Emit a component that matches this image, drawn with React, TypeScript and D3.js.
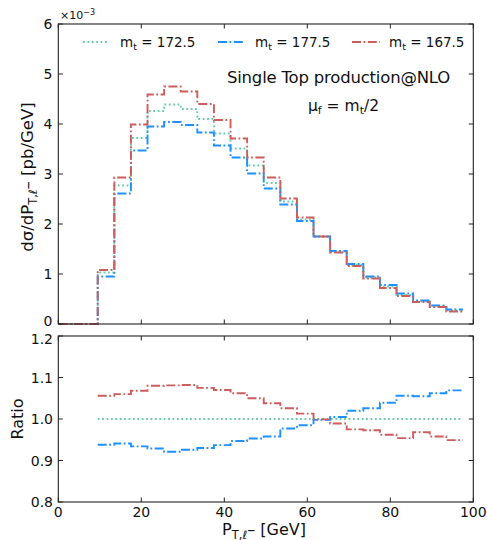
import React from "react";
import * as d3 from "d3";

// Bin edges (GeV) for the histogram steps
const binEdges = [0, 9.5, 13.5, 17.5, 21.5, 25.5, 29.5, 33.5, 37.5, 41.5, 45.5, 49.5, 53.5, 57.5, 61.5, 65.5, 69.5, 73.5, 77.5, 81.5, 85.5, 89.5, 93.5, 97.5];

// dσ/dPT values (×10^-3 pb/GeV), one per bin (first bin is the empty region below 9.5 GeV)
const mt1725 = [0, 1.03, 2.77, 3.72, 4.26, 4.39, 4.3, 4.1, 3.81, 3.51, 3.17, 2.82, 2.45, 2.09, 1.75, 1.45, 1.18, 0.93, 0.75, 0.58, 0.45, 0.35, 0.27];
const mt1775 = [0, 0.95, 2.61, 3.47, 3.95, 4.04, 3.98, 3.83, 3.57, 3.33, 3.01, 2.71, 2.39, 2.06, 1.75, 1.46, 1.2, 0.95, 0.78, 0.61, 0.47, 0.37, 0.29];
const mt1675 = [0, 1.08, 2.93, 3.99, 4.59, 4.75, 4.65, 4.4, 4.08, 3.71, 3.33, 2.93, 2.51, 2.13, 1.75, 1.43, 1.16, 0.91, 0.72, 0.56, 0.44, 0.34, 0.25];

// Ratio to mt = 172.5 (bins from 9.5 GeV)
const ratioEdges = binEdges.slice(1);
const ratio1725 = [1, 1, 1, 1, 1, 1, 1, 1, 1, 1, 1, 1, 1, 1, 1, 1, 1, 1, 1, 1, 1, 1];
const ratio1775 = [0.938, 0.941, 0.934, 0.929, 0.921, 0.926, 0.93, 0.937, 0.947, 0.953, 0.958, 0.977, 0.985, 0.998, 1.005, 1.02, 1.026, 1.039, 1.056, 1.055, 1.062, 1.069];
const ratio1675 = [1.056, 1.06, 1.068, 1.08, 1.081, 1.082, 1.075, 1.07, 1.062, 1.05, 1.038, 1.026, 1.013, 0.999, 0.989, 0.975, 0.973, 0.962, 0.954, 0.968, 0.958, 0.949];

const xTicks = [0, 20, 40, 60, 80, 100];
const yTopTicks = [0, 1, 2, 3, 4, 5, 6];
const yRatioTicks = [0.8, 0.9, 1.0, 1.1, 1.2];
const yRatioLabels = ["0.8", "0.9", "1.0", "1.1", "1.2"];

const series = [
  { label: "172.5", top: mt1725, ratio: ratio1725, color: "#66CDAA", dash: "1.8,2.6" },
  { label: "177.5", top: mt1775, ratio: ratio1775, color: "#1E90FF", dash: "9,2.5,1.8,2.5" },
  { label: "167.5", top: mt1675, ratio: ratio1675, color: "#CD5C5C", dash: "9,2.5,1.8,2.5" },
];

const W = 487;
const H = 540;
const L = 58.3;
const R = 473.3;
const topT = 24;
const topB = 324;
const ratT = 336;
const ratB = 502;
const FONT = "DejaVu Sans, sans-serif";

export default function App() {
  const x = d3.scaleLinear().domain([0, 100]).range([L, R]);
  const yTop = d3.scaleLinear().domain([0, 6]).range([topB, topT]);
  const yRat = d3.scaleLinear().domain([0.8, 1.2]).range([ratB, ratT]);

  const stepPath = (edges: number[], vals: number[], y: d3.ScaleLinear<number, number>) => {
    const pts: [number, number][] = vals.map((v, i) => [edges[i], v]);
    pts.push([edges[vals.length], vals[vals.length - 1]]);
    return (
      d3
        .line<[number, number]>()
        .x((d) => x(d[0]))
        .y((d) => y(d[1]))
        .curve(d3.curveStepAfter)(pts) || ""
    );
  };

  const tk = 4.5;
  const frame = (t: number, b: number) => (
    <rect x={L} y={t} width={R - L} height={b - t} fill="none" stroke="#222" strokeWidth={1.1} />
  );

  const xTickMarks = (t: number, b: number) =>
    xTicks.map((v) => (
      <g key={`xt${t}-${v}`}>
        <line x1={x(v)} x2={x(v)} y1={b} y2={b - tk} stroke="#222" strokeWidth={1} />
        <line x1={x(v)} x2={x(v)} y1={t} y2={t + tk} stroke="#222" strokeWidth={1} />
      </g>
    ));

  const yTickMarks = (vals: number[], y: d3.ScaleLinear<number, number>, key: string) =>
    vals.map((v) => (
      <g key={`${key}${v}`}>
        <line x1={L} x2={L + tk} y1={y(v)} y2={y(v)} stroke="#222" strokeWidth={1} />
        <line x1={R} x2={R - tk} y1={y(v)} y2={y(v)} stroke="#222" strokeWidth={1} />
      </g>
    ));

  const legendX = [
    { x1: 83, x2: 108, tx: 120 },
    { x1: 218, x2: 245, tx: 255 },
    { x1: 352, x2: 380, tx: 389 },
  ];

  return (
    <svg width={W} height={H} style={{ display: "block", position: "absolute", left: 0, top: 0 }} fontFamily={FONT}>
      <rect width={W} height={H} fill="#fff" />
      {/* top panel lines */}
      <g fill="none" strokeWidth={1.9}>
        {series.map((s) => (
          <path key={`t${s.label}`} d={stepPath(binEdges, s.top, yTop)} stroke={s.color} strokeDasharray={s.dash} />
        ))}
      </g>
      {/* ratio panel lines */}
      <g fill="none" strokeWidth={1.9}>
        {series.map((s) => (
          <path key={`r${s.label}`} d={stepPath(ratioEdges, s.ratio, yRat)} stroke={s.color} strokeDasharray={s.dash} />
        ))}
      </g>

      {frame(topT, topB)}
      {frame(ratT, ratB)}
      {xTickMarks(topT, topB)}
      {xTickMarks(ratT, ratB)}
      {yTickMarks(yTopTicks, yTop, "yt")}
      {yTickMarks(yRatioTicks, yRat, "yr")}

      {/* tick labels */}
      <g fontSize={14} fill="#111">
        {yTopTicks.map((v) => (
          <text key={`ytl${v}`} x={52.5} y={yTop(v) - (v === 0 ? 3 : 0)} dy="0.36em" textAnchor="end">
            {v}
          </text>
        ))}
        {yRatioTicks.map((v, i) => (
          <text key={`yrl${v}`} x={53} y={yRat(v) + (v === 1.2 ? 2.5 : 0)} dy="0.36em" textAnchor="end">
            {yRatioLabels[i]}
          </text>
        ))}
        {xTicks.map((v) => (
          <text key={`xl${v}`} x={x(v)} y={517} textAnchor="middle">
            {v}
          </text>
        ))}
      </g>

      {/* scale factor */}
      <text x={60} y={19} fontSize={11} fill="#111">
        ×10
        <tspan dy={-4} fontSize={8}>
          −3
        </tspan>
      </text>

      {/* legend */}
      <g fontSize={13.5} fill="#111">
        {series.map((s, i) => (
          <g key={`lg${s.label}`}>
            <line x1={legendX[i].x1} x2={legendX[i].x2} y1={42} y2={42} stroke={s.color} strokeWidth={1.9} strokeDasharray={s.dash} />
            <text x={legendX[i].tx} y={46.5}>
              m
              <tspan fontSize={9.5} dy={3}>
                t
              </tspan>
              <tspan dy={-3}> = {s.label}</tspan>
            </text>
          </g>
        ))}
      </g>

      {/* annotations */}
      <text x={338.5} y={83} fontSize={16.5} textAnchor="middle" fill="#111" letterSpacing={-0.2}>
        Single Top production@NLO
      </text>
      <text x={343.5} y={111} fontSize={15.5} textAnchor="middle" fill="#111">
        μ<tspan fontSize={11} dy={3}>f</tspan>
        <tspan dy={-3}> = m</tspan>
        <tspan fontSize={11} dy={3}>t</tspan>
        <tspan dy={-3}>/2</tspan>
      </text>

      {/* axis labels */}
      <text transform={`translate(33,177) rotate(-90)`} fontSize={16.5} textAnchor="middle" fill="#111">
        dσ/dP
        <tspan fontSize={11.5} dy={3.5}>T,ℓ</tspan>
        <tspan dy={-3.5}>– [pb/GeV]</tspan>
      </text>
      <text transform={`translate(23,419) rotate(-90)`} fontSize={16} textAnchor="middle" fill="#111">
        Ratio
      </text>
      <text x={264} y={535} fontSize={16} textAnchor="middle" fill="#111">
        P<tspan fontSize={11.5} dy={3.5}>T,ℓ</tspan>
        <tspan dy={-3.5}>– [GeV]</tspan>
      </text>
    </svg>
  );
}
